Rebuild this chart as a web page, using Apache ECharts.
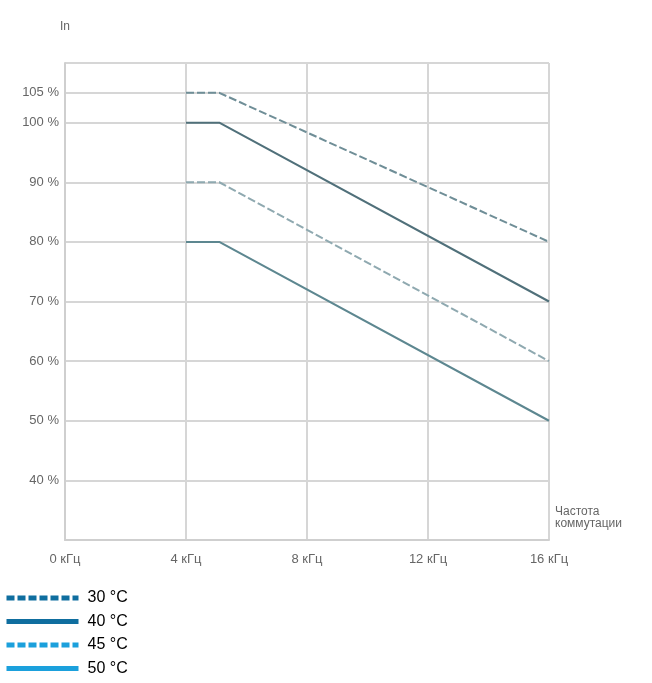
<!DOCTYPE html>
<html>
<head>
<meta charset="utf-8">
<script src="https://cdn.jsdelivr.net/npm/echarts@6/dist/echarts.min.js"></script>
<style>html,body{margin:0;padding:0;background:#fff}#c{width:652px;height:683px}</style>
</head>
<body>
<div id="c"></div>
<script>
// Switching frequency (kHz) at the points of each curve
const freq = [4, 5.1, 16];
const t30 = [105, 105, 80];
const t40 = [100, 100, 70];
const t45 = [90, 90, 60];
const t50 = [80, 80, 50];
const seriesNames = ['30 °C', '40 °C', '45 °C', '50 °C'];
const yTicks = [40, 50, 60, 70, 80, 90, 100, 105];
const yGrid = [30, 40, 50, 60, 70, 80, 90, 100, 105, 110];

const chart = echarts.init(document.getElementById('c'), null, {renderer: 'canvas'});
const pair = a => freq.map((f, i) => [f, a[i]]);
const lineCol = ['#6f8e97', '#50707a', '#8fa9b0', '#5d8790'];
const legCol = ['#0f6e9f', '#0f6e9f', '#1ba0dc', '#1ba0dc'];
const dash = [[8, 3], 'solid', [8, 3], 'solid'];
const sets = [t30, t40, t45, t50];

chart.setOption({
  animation: false,
  grid: {left: 65, right: 103, top: 63, bottom: 143},
  xAxis: {
    type: 'value', min: 0, max: 16, interval: 4,
    name: 'Частота\nкоммутации', nameLocation: 'end', nameGap: 6,
    nameTextStyle: {color: '#666', fontSize: 12, align: 'left', verticalAlign: 'bottom', padding: [0, 0, 10, 0]},
    axisLine: {lineStyle: {color: '#cfcfcf', width: 2}},
    axisTick: {show: false},
    axisLabel: {color: '#666', fontSize: 13, margin: 13, formatter: v => v + ' кГц'},
    splitLine: {show: true, lineStyle: {color: '#d6d6d6', width: 2}}
  },
  yAxis: {
    type: 'value', min: 30, max: 110,
    name: 'In', nameLocation: 'end', nameGap: 30,
    nameTextStyle: {color: '#666', fontSize: 12},
    axisLine: {show: true, lineStyle: {color: '#cfcfcf', width: 2}},
    axisTick: {show: false, customValues: yGrid},
    axisLabel: {color: '#666', fontSize: 13, margin: 6, customValues: yTicks, formatter: v => v + ' %'},
    splitLine: {show: true, customValues: yGrid, lineStyle: {color: '#d6d6d6', width: 2}}
  },
  legend: {
    orient: 'vertical', left: 4, top: 590, padding: 0,
    itemWidth: 72, itemHeight: 5, itemGap: 7.5,
    textStyle: {color: '#000', fontSize: 16, fontFamily: 'Liberation Sans, Arial, sans-serif', padding: [0, 0, 0, 4]},
    data: seriesNames.map((n, i) => ({
      name: n,
      itemStyle: {color: legCol[i], borderWidth: 0},
      lineStyle: {color: legCol[i], width: 5, type: dash[i]}
    }))
  },
  series: sets.map((s, i) => ({
    name: seriesNames[i], type: 'line', data: pair(s), symbol: 'none',
    lineStyle: {color: lineCol[i], width: 2, type: dash[i]},
    itemStyle: {color: legCol[i]}
  }))
});
</script>
</body>
</html>
